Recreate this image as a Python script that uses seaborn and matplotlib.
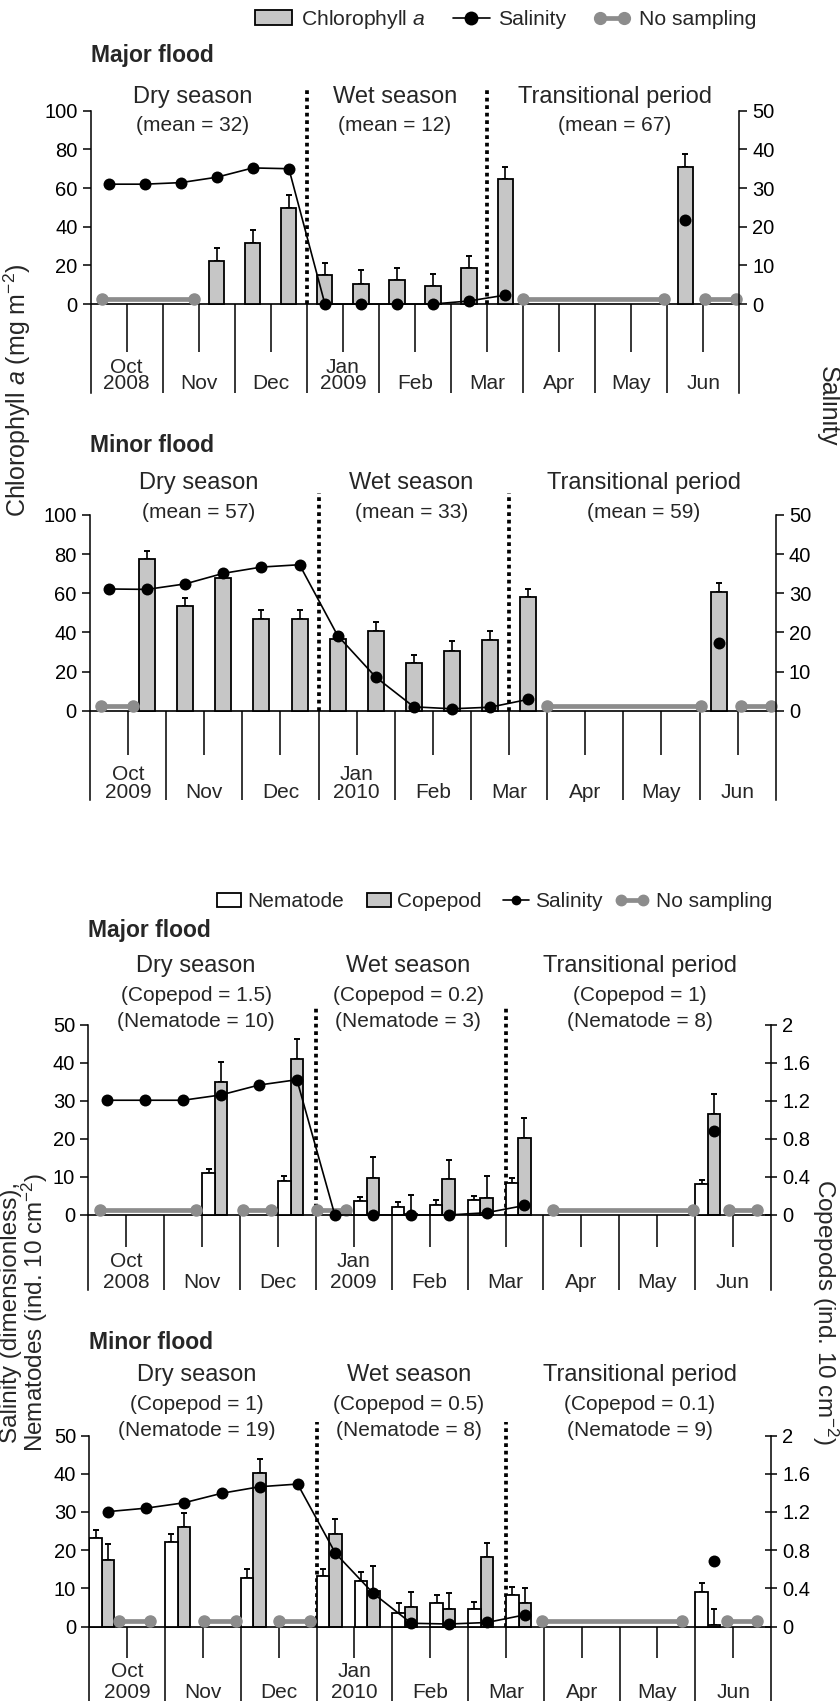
import numpy as np
import matplotlib
matplotlib.use("Agg")
import matplotlib.pyplot as plt
import seaborn as sns
from matplotlib.lines import Line2D
from matplotlib.patches import Patch, Rectangle
from matplotlib.legend_handler import HandlerLine2D, HandlerPatch

sns.set_theme(style="white")
plt.rcParams["font.family"] = ["Liberation Sans", "DejaVu Sans"]
plt.rcParams["mathtext.fontset"] = "custom"
plt.rcParams["mathtext.rm"] = "Liberation Sans"
plt.rcParams["mathtext.it"] = "Liberation Sans:italic"
plt.rcParams["mathtext.bf"] = "Liberation Sans:bold"

# ---------------------------------------------------------------- data
MONTHS = ["Oct", "Nov", "Dec", "Jan", "Feb", "Mar", "Apr", "May", "Jun"]
SEASONS = ["Dry season", "Wet season", "Transitional period"]

# Panel A : chlorophyll a, major flood 2008-2009
years_a = ["2008", "2009"]
chl_slots_a = ["Nov2", "Dec1", "Dec2", "Jan1", "Jan2", "Feb1", "Feb2", "Mar1", "Mar2", "Jun1"]
chl_a = [22.3, 31.4, 49.7, 14.8, 10.6, 12.2, 9.3, 18.5, 64.5, 71.0]
chl_err_a = [6.5, 6.7, 6.6, 6.5, 6.9, 6.5, 6.3, 6.4, 6.5, 6.5]
sal_slots_a = ["Oct1", "Oct2", "Nov1", "Nov2", "Dec1", "Dec2", "Jan1", "Jan2", "Feb1", "Feb2", "Mar1", "Mar2"]
sal_a = [31.0, 31.0, 31.4, 32.8, 35.2, 35.0, 0.0, 0.0, 0.0, 0.0, 0.8, 2.3]
sal_extra_slot_a, sal_extra_a = "Jun1", 21.7
nosamp_start_a = [0.15, 6.0, 8.53]
nosamp_end_a = [1.43, 7.96, 8.95]
notes_a = ["(mean = 32)", "(mean = 12)", "(mean = 67)"]

# Panel B : chlorophyll a, minor flood 2009-2010
years_b = ["2009", "2010"]
chl_slots_b = ["Oct2", "Nov1", "Nov2", "Dec1", "Dec2", "Jan1", "Jan2", "Feb1", "Feb2", "Mar1", "Mar2", "Jun1"]
chl_b = [77.3, 53.4, 67.9, 46.8, 47.1, 36.6, 40.9, 24.3, 30.7, 35.9, 57.9, 60.7]
chl_err_b = [4.2, 4.0, 2.5, 4.5, 4.5, 3.5, 4.5, 4.1, 4.7, 4.7, 4.5, 4.6]
sal_slots_b = ["Oct1", "Oct2", "Nov1", "Nov2", "Dec1", "Dec2", "Jan1", "Jan2", "Feb1", "Feb2", "Mar1", "Mar2"]
sal_b = [31.1, 31.0, 32.4, 35.1, 36.7, 37.3, 19.2, 8.6, 1.0, 0.5, 0.9, 2.9]
sal_extra_slot_b, sal_extra_b = "Jun1", 17.2
nosamp_start_b = [0.14, 6.0, 8.54]
nosamp_end_b = [0.56, 8.02, 8.94]
notes_b = ["(mean = 57)", "(mean = 33)", "(mean = 59)"]

# Panel C : nematodes / copepods, major flood 2008-2009
years_c = ["2008", "2009"]
bio_slots_c = ["Nov2", "Dec2", "Jan2", "Feb1", "Feb2", "Mar1", "Mar2", "Jun1"]
nem_c = [11.0, 9.0, 3.8, 2.0, 2.6, 3.9, 8.5, 8.1]
nem_err_c = [1.2, 1.2, 1.0, 1.3, 1.3, 1.2, 1.3, 1.1]
cop_c = [1.40, 1.64, 0.39, 0.01, 0.38, 0.18, 0.81, 1.06]
cop_err_c = [0.21, 0.21, 0.22, 0.20, 0.20, 0.23, 0.21, 0.21]
sal_slots_c = ["Oct1", "Oct2", "Nov1", "Nov2", "Dec1", "Dec2", "Jan1", "Jan2", "Feb1", "Feb2", "Mar1", "Mar2"]
sal_c = [30.2, 30.2, 30.2, 31.6, 34.2, 35.6, 0.0, 0.0, 0.0, 0.0, 0.6, 2.5]
sal_extra_slot_c, sal_extra_c = "Jun1", 22.2
nosamp_start_c = [0.15, 2.04, 3.01, 6.13, 8.45]
nosamp_end_c = [1.42, 2.41, 3.40, 7.97, 8.82]
notes1_c = ["(Copepod = 1.5)", "(Copepod = 0.2)", "(Copepod = 1)"]
notes2_c = ["(Nematode = 10)", "(Nematode = 3)", "(Nematode = 8)"]

# Panel D : nematodes / copepods, minor flood 2009-2010
years_d = ["2009", "2010"]
bio_slots_d = ["Oct1", "Nov1", "Dec1", "Jan1", "Jan2", "Feb1", "Feb2", "Mar1", "Mar2", "Jun1"]
nem_d = [23.2, 22.2, 12.8, 13.2, 12.0, 3.5, 6.2, 4.6, 8.4, 9.2]
nem_err_d = [2.2, 2.1, 2.2, 2.0, 2.3, 2.7, 2.1, 1.9, 2.0, 2.1]
cop_d = [0.70, 1.04, 1.61, 0.97, 0.37, 0.21, 0.18, 0.73, 0.25, 0.02]
cop_err_d = [0.16, 0.15, 0.14, 0.16, 0.27, 0.15, 0.17, 0.15, 0.15, 0.17]
sal_slots_d = ["Oct1", "Oct2", "Nov1", "Nov2", "Dec1", "Dec2", "Jan1", "Jan2", "Feb1", "Feb2", "Mar1", "Mar2"]
sal_d = [30.1, 31.0, 32.4, 34.9, 36.6, 37.3, 19.2, 8.7, 0.9, 0.7, 1.1, 3.1]
sal_extra_slot_d, sal_extra_d = "Jun1", 17.3
nosamp_start_d = [0.39, 1.51, 2.50, 5.98, 8.42]
nosamp_end_d = [0.80, 1.94, 2.91, 7.83, 8.82]
notes1_d = ["(Copepod = 1)", "(Copepod = 0.5)", "(Copepod = 0.1)"]
notes2_d = ["(Nematode = 19)", "(Nematode = 8)", "(Nematode = 9)"]

# ---------------------------------------------------------------- style
W, H = 840, 1701
BAR_GRAY = "#c6c6c6"
NS_GRAY = "#8c8c8c"
TICK_FS = 14.5
MONTH_FS = 15
SEASON_FS = 17
NOTE_FS = 15
SEASON_X = [1.42, 4.22, 7.27]
BOUNDARIES = [3.0, 5.5]
SAL_MS = 8.6


def pos(slot):
    return MONTHS.index(slot[:3]) + (0.25 if slot[3] == "1" else 0.75)


def rect(left, right, top, bottom):
    return [left / W, 1 - bottom / H, (right - left) / W, (bottom - top) / H]


fig = plt.figure(figsize=(W / 100, H / 100), dpi=100)
fig.patch.set_facecolor("white")


def base(r, ylim, yticks, ylim2, yticks2, yticklabels2, rdir, mid_end,
         row1, row2, years, dot_top):
    ax = fig.add_axes(r)
    ax2 = ax.twinx()
    ax.set_xlim(0, 9)
    ax.set_ylim(*ylim)
    ax2.set_ylim(*ylim2)
    for a in (ax, ax2):
        a.grid(False)
        a.set_xticks([])
        a.spines["top"].set_visible(False)
        a.spines["bottom"].set_visible(False)
        for s in a.spines.values():
            s.set_color("black")
            s.set_linewidth(1.1)
    ax.spines["right"].set_visible(False)
    ax2.spines["left"].set_visible(False)
    ax.set_yticks(yticks)
    ax.set_yticklabels([f"{t:g}" for t in yticks])
    ax.tick_params(axis="y", left=True, right=False, direction="out", length=5.5,
                   width=1.1, colors="black", labelsize=TICK_FS, pad=4)
    ax2.set_yticks(yticks2)
    ax2.set_yticklabels(yticklabels2)
    ax2.tick_params(axis="y", right=True, left=False, direction=rdir,
                    length=8 if rdir == "inout" else 5.5, width=1.1,
                    colors="black", labelsize=TICK_FS, pad=4)
    # month scale beneath the zero line
    ax.axhline(0, color="black", lw=1.2, zorder=1.5)
    ax.vlines(range(1, len(MONTHS)), ylim[0], 0, color="black", lw=1.1)
    ax.vlines([i + 0.5 for i in range(len(MONTHS))], mid_end, 0, color="black", lw=1.1)
    for i, m in enumerate(MONTHS):
        if m == "Oct":
            ax.text(i + 0.5, row1, m, ha="center", va="baseline", fontsize=MONTH_FS)
            ax.text(i + 0.5, row2, years[0], ha="center", va="baseline", fontsize=MONTH_FS)
        elif m == "Jan":
            ax.text(i + 0.5, row1, m, ha="center", va="baseline", fontsize=MONTH_FS)
            ax.text(i + 0.5, row2, years[1], ha="center", va="baseline", fontsize=MONTH_FS)
        else:
            ax.text(i + 0.5, row2, m, ha="center", va="baseline", fontsize=MONTH_FS)
    ax.vlines(BOUNDARIES, 0, dot_top, colors="black", linestyles=(0, (1.0, 1.0)),
              lw=2.7, clip_on=False, zorder=1.6)
    return ax, ax2


def titles(ax, flood, y_flood, y_season, rows):
    ax.text(0, y_flood, flood, ha="left", va="center", fontsize=16.5,
            fontweight="bold", clip_on=False)
    for k, name in enumerate(SEASONS):
        ax.text(SEASON_X[k], y_season, name, ha="center", va="center",
                fontsize=SEASON_FS, clip_on=False)
        for y, texts in rows:
            ax.text(SEASON_X[k], y, texts[k], ha="center", va="center",
                    fontsize=NOTE_FS, clip_on=False)


def nosampling(ax, starts, ends, y):
    for s, e in zip(starts, ends):
        ax.plot([s, e], [y, y], color=NS_GRAY, lw=3.4, marker="o", ms=8,
                solid_capstyle="butt", zorder=3, clip_on=False)


def bars(ax, slots, vals, errs, color, width, offset=0.0):
    x = np.array([pos(s) + offset for s in slots], dtype=float)
    v = np.array(vals, dtype=float)
    e = np.array(errs, dtype=float)
    ax.errorbar(x, v, yerr=[np.zeros_like(e), e], fmt="none", ecolor="black",
                elinewidth=1.2, capsize=2.2, capthick=1.4, zorder=1.9)
    sns.barplot(x=x, y=v, ax=ax, native_scale=True, orient="x", width=width,
                color=color, saturation=1, edgecolor="black", linewidth=1.3,
                errorbar=None, zorder=2)
    ax.set_xlabel("")
    ax.set_ylabel("")


def salinity(ax, slots, vals, extra_slot, extra_val, ms=SAL_MS):
    x = np.array([pos(s) for s in slots], dtype=float)
    sns.lineplot(x=x, y=np.array(vals, dtype=float), ax=ax, color="black", lw=1.2,
                 marker="o", markersize=ms, markeredgewidth=0, estimator=None,
                 sort=False, zorder=4)
    ax.plot([pos(extra_slot)], [extra_val], "o", color="black", ms=ms,
            markeredgewidth=0, zorder=4)
    ax.set_xlabel("")
    ax.set_ylabel("")


# ---------------------------------------------------------------- panel A
axA, axA2 = base(rect(90.7, 739.3, 110.7, 393), (-46.0, 100), [0, 20, 40, 60, 80, 100],
                 (-23.0, 50), [0, 10, 20, 30, 40, 50], ["0", "10", "20", "30", "40", "50"],
                 "out", -24.7, -35.6, -43.8, years_a, 112.5)
bars(axA, chl_slots_a, chl_a, chl_err_a, BAR_GRAY, 0.42)
nosampling(axA, nosamp_start_a, nosamp_end_a, 2.4)
salinity(axA2, sal_slots_a, sal_a, sal_extra_slot_a, sal_extra_a)
titles(axA, "Major flood", 128.8, 107.2, [(92.6, notes_a)])
axA.set_xlim(0, 9)

# ---------------------------------------------------------------- panel B
axB, axB2 = base(rect(90, 775.7, 515, 800), (-45.6, 100), [0, 20, 40, 60, 80, 100],
                 (-22.8, 50), [0, 10, 20, 30, 40, 50], ["0", "10", "20", "30", "40", "50"],
                 "out", -22.6, -35.6, -44.6, years_b, 111.0)
bars(axB, chl_slots_b, chl_b, chl_err_b, BAR_GRAY, 0.42)
nosampling(axB, nosamp_start_b, nosamp_end_b, 2.4)
salinity(axB2, sal_slots_b, sal_b, sal_extra_slot_b, sal_extra_b)
titles(axB, "Minor flood", 135.4, 116.2, [(101.3, notes_b)])
axB.set_xlim(0, 9)

# ---------------------------------------------------------------- panel C
cop_ticks = [0, 0.4, 0.8, 1.2, 1.6, 2]
cop_labels = ["0", "0.4", "0.8", "1.2", "1.6", "2"]
axC, axC2 = base(rect(88.3, 771, 1025, 1290), (-19.74, 50), [0, 10, 20, 30, 40, 50],
                 (-19.74 / 25, 2), cop_ticks, cop_labels,
                 "inout", -8.5, -13.8, -19.3, years_c, 55.3)
axC.set_zorder(axC2.get_zorder() + 1)
axC.patch.set_visible(False)
bars(axC2, bio_slots_c, cop_c, cop_err_c, BAR_GRAY, 0.33)
bars(axC, bio_slots_c, nem_c, nem_err_c, "white", 0.33, offset=-0.165)
nosampling(axC, nosamp_start_c, nosamp_end_c, 1.3)
salinity(axC, sal_slots_c, sal_c, sal_extra_slot_c, sal_extra_c)
titles(axC, "Major flood", 74.8, 65.6, [(57.7, notes1_c), (50.9, notes2_c)])
axC.set_xlim(0, 9)
axC2.set_xlim(0, 9)

# ---------------------------------------------------------------- panel D
axD, axD2 = base(rect(89.3, 771, 1435.5, 1701), (-19.43, 50), [0, 10, 20, 30, 40, 50],
                 (-19.43 / 25, 2), cop_ticks, cop_labels,
                 "inout", -8.3, -13.2, -18.6, years_d, 53.5)
axD.set_zorder(axD2.get_zorder() + 1)
axD.patch.set_visible(False)
bars(axD2, bio_slots_d, cop_d, cop_err_d, BAR_GRAY, 0.33)
bars(axD, bio_slots_d, nem_d, nem_err_d, "white", 0.33, offset=-0.165)
nosampling(axD, nosamp_start_d, nosamp_end_d, 1.5)
salinity(axD, sal_slots_d, sal_d, sal_extra_slot_d, sal_extra_d)
titles(axD, "Minor flood", 74.2, 65.9, [(58.2, notes1_d), (51.3, notes2_d)])
axD.set_xlim(0, 9)
axD2.set_xlim(0, 9)


# ---------------------------------------------------------------- legend handlers
class RightLine(HandlerLine2D):
    """Line handle drawn narrower, right-aligned inside the handle box."""
    def __init__(self, frac, **kw):
        super().__init__(**kw)
        self.frac = frac

    def create_artists(self, legend, orig_handle, xdescent, ydescent, width,
                       height, fontsize, trans):
        w = width * self.frac
        return super().create_artists(legend, orig_handle, xdescent - (width - w),
                                      ydescent, w, height, fontsize, trans)


def right_square(frac):
    def f(legend, orig_handle, xdescent, ydescent, width, height, fontsize):
        w = width * frac
        return Rectangle((-xdescent + width - w, -ydescent), w, height)
    return f


h_chl = Patch(facecolor=BAR_GRAY, edgecolor="black", lw=1.3)
h_sal1 = Line2D([], [], color="black", lw=1.2, marker="o", ms=10, markeredgewidth=0)
h_ns1 = Line2D([], [], color=NS_GRAY, lw=3.4, marker="o", ms=8.5)
fig.legend([h_chl, h_sal1, h_ns1], ["Chlorophyll $a$", "Salinity", "No sampling"],
           loc="center", bbox_to_anchor=(506 / W, 1 - 19.5 / H), ncol=3, frameon=False,
           fontsize=15.2, handlelength=1.75, handleheight=0.7, handletextpad=0.4,
           columnspacing=1.3,
           handler_map={h_sal1: HandlerLine2D(numpoints=1), h_ns1: HandlerLine2D(numpoints=2)})

h_nem = Patch(facecolor="white", edgecolor="black", lw=1.3)
h_cop = Patch(facecolor=BAR_GRAY, edgecolor="black", lw=1.3)
h_sal3 = Line2D([], [], color="black", lw=1.2, marker="o", ms=7, markeredgewidth=0)
h_ns3 = Line2D([], [], color=NS_GRAY, lw=3.4, marker="o", ms=7.5)
fig.legend([h_nem, h_cop, h_sal3, h_ns3], ["Nematode", "Copepod", "Salinity", "No sampling"],
           loc="center", bbox_to_anchor=(488 / W, 1 - 901.7 / H), ncol=4, frameon=False,
           fontsize=15, handlelength=1.8, handleheight=0.7, handletextpad=0.3,
           columnspacing=0.45,
           handler_map={h_nem: HandlerPatch(patch_func=right_square(0.64)),
                        h_cop: HandlerPatch(patch_func=right_square(0.64)),
                        h_sal3: RightLine(0.7, numpoints=1),
                        h_ns3: RightLine(0.92, numpoints=2)})

# ---------------------------------------------------------------- axis titles
fig.text(17 / W, 1 - 390 / H, "Chlorophyll $a$ (mg m$^{-2}$)", rotation=90,
         ha="center", va="center", fontsize=18)
fig.text(828 / W, 1 - 406 / H, "Salinity", rotation=-90, ha="center", va="center",
         fontsize=18)
fig.text(25 / W, 1 - 1312 / H, "Salinity (dimensionless),\nNematodes (ind. 10 cm$^{-2}$)",
         rotation=90, ha="center", va="center", fontsize=17.5, linespacing=0.88,
         multialignment="center")
fig.text(825 / W, 1 - 1312 / H, "Copepods (ind. 10 cm$^{-2}$)", rotation=-90,
         ha="center", va="center", fontsize=17.5)

fig.savefig("out.png", dpi=100, facecolor="white")
